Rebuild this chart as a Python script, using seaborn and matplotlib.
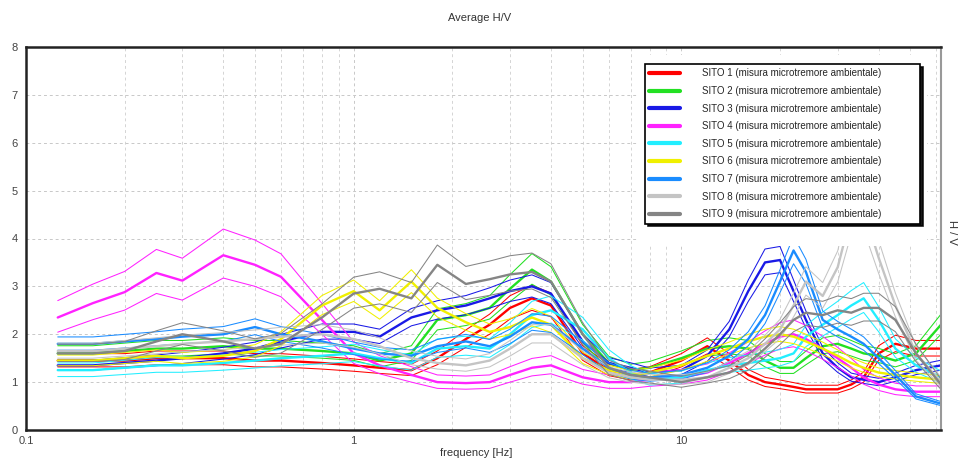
import numpy as np
import pandas as pd
import matplotlib
matplotlib.use("Agg")
import matplotlib.pyplot as plt
import seaborn as sns
from matplotlib.lines import Line2D
from matplotlib.patches import Rectangle

# frequenze (Hz) e curve H/V medie
freqs = [0.125, 0.16, 0.2, 0.25, 0.3, 0.4, 0.5, 0.6, 0.8, 1.0, 1.2, 1.5, 1.8, 2.2,
         2.6, 3.0, 3.5, 4.0, 5.0, 6.0, 7.0, 8.0, 10, 12, 14, 16, 18, 20, 22, 24,
         27, 30, 33, 36, 40, 45, 52, 62]

sito1 = [1.45, 1.45, 1.45, 1.5, 1.5, 1.5, 1.45, 1.45, 1.4, 1.35, 1.3, 1.25, 1.5, 1.9,
         2.2, 2.55, 2.75, 2.6, 1.6, 1.25, 1.15, 1.2, 1.45, 1.75, 1.45, 1.15, 1.0, 0.95,
         0.9, 0.85, 0.85, 0.85, 0.95, 1.1, 1.6, 1.8, 1.7, 1.7]
sito2 = [1.6, 1.6, 1.65, 1.7, 1.7, 1.75, 1.7, 1.7, 1.65, 1.6, 1.45, 1.6, 2.3, 2.4,
         2.55, 2.95, 3.35, 3.1, 2.0, 1.4, 1.25, 1.3, 1.5, 1.7, 1.75, 1.7, 1.45, 1.3,
         1.3, 1.5, 1.75, 1.8, 1.7, 1.6, 1.55, 1.45, 1.6, 2.2]
sito3 = [1.35, 1.35, 1.4, 1.45, 1.5, 1.6, 1.7, 1.85, 2.05, 2.05, 1.95, 2.35, 2.5, 2.6,
         2.75, 2.9, 3.0, 2.85, 1.85, 1.4, 1.3, 1.2, 1.25, 1.55, 2.1, 2.9, 3.5, 3.55,
         2.9, 2.3, 1.6, 1.3, 1.1, 1.05, 1.0, 1.1, 1.25, 1.35]
sito4 = [2.35, 2.65, 2.88, 3.28, 3.12, 3.65, 3.45, 3.2, 2.3, 1.6, 1.35, 1.15, 1.0, 0.98,
         1.0, 1.15, 1.3, 1.35, 1.1, 1.0, 1.0, 1.05, 1.1, 1.2, 1.4, 1.6, 1.8, 1.95,
         2.0, 1.9, 1.7, 1.5, 1.3, 1.1, 0.95, 0.85, 0.8, 0.8]
sito5 = [1.25, 1.25, 1.3, 1.35, 1.35, 1.4, 1.45, 1.5, 1.55, 1.6, 1.5, 1.4, 1.7, 1.75,
         1.7, 2.0, 2.4, 2.5, 2.1, 1.5, 1.2, 1.05, 1.1, 1.25, 1.35, 1.4, 1.45, 1.5,
         1.6, 1.95, 2.2, 2.4, 2.6, 2.75, 2.3, 1.7, 1.35, 1.1]
sito6 = [1.45, 1.45, 1.5, 1.55, 1.5, 1.55, 1.65, 1.9, 2.6, 2.9, 2.5, 3.1, 2.55, 2.25,
         2.05, 2.15, 2.35, 2.2, 1.5, 1.25, 1.15, 1.2, 1.35, 1.55, 1.7, 1.85, 1.95, 2.0,
         1.95, 1.85, 1.7, 1.55, 1.4, 1.3, 1.2, 1.15, 1.1, 1.05]
sito7 = [1.8, 1.8, 1.85, 1.9, 1.95, 2.0, 2.15, 2.0, 1.85, 1.7, 1.6, 1.55, 1.75, 1.85,
         1.75, 1.95, 2.25, 2.2, 1.7, 1.3, 1.15, 1.1, 1.15, 1.3, 1.55, 1.9, 2.4, 3.1,
         3.75, 3.3, 2.3, 2.1, 1.95, 1.8, 1.5, 1.15, 0.7, 0.55]
sito8 = [1.65, 1.65, 1.7, 1.75, 1.8, 1.85, 1.9, 1.95, 2.0, 1.9, 1.75, 1.5, 1.4, 1.35,
         1.45, 1.7, 2.0, 2.0, 1.5, 1.2, 1.1, 1.05, 1.05, 1.1, 1.3, 1.5, 1.8, 2.1,
         2.6, 3.1, 2.8, 3.4, 4.5, 4.6, 3.6, 2.6, 1.6, 1.0]
sito9 = [1.6, 1.6, 1.65, 1.85, 2.0, 1.85, 1.7, 1.8, 2.35, 2.85, 2.95, 2.75, 3.45, 3.05,
         3.15, 3.25, 3.3, 3.1, 2.0, 1.3, 1.15, 1.1, 1.0, 1.1, 1.2, 1.4, 1.7, 2.0,
         2.3, 2.45, 2.4, 2.5, 2.45, 2.55, 2.55, 2.3, 1.6, 0.95]

# fattore della deviazione standard (curve sottili = media * / fattore)
spread = [1.1, 1.1, 1.08, 1.15, 1.12, 1.08, 1.08, 1.1, 1.12]

siti = ["SITO %d (misura microtremore ambientale)" % i for i in range(1, 10)]
colori = ["#ff0000", "#22e022", "#1a1ae6", "#ff22ff", "#22eeff",
          "#f0f000", "#1a8cff", "#c4c4c4", "#858585"]
medie = [sito1, sito2, sito3, sito4, sito5, sito6, sito7, sito8, sito9]

rows = []
for nome, m, s in zip(siti, medie, spread):
    m = np.array(m)
    for kind, vals in [("mean", m), ("up", m * s), ("low", m / s)]:
        for f, v in zip(freqs, vals):
            rows.append({"freq": f, "hv": v, "sito": nome, "kind": kind,
                         "unit": nome + kind})
df = pd.DataFrame(rows)
df["size"] = np.where(df["kind"] == "mean", "thick", "thin")

sns.set_style("white")
plt.rcParams["font.family"] = ["Liberation Sans", "DejaVu Sans"]

fig = plt.figure(figsize=(9.63, 4.63), dpi=100)
ax = fig.add_axes([26 / 963, 33 / 463, 915 / 963, 383 / 463])

sns.lineplot(data=df, x="freq", y="hv", hue="sito", units="unit", estimator=None,
             size="size", sizes={"thick": 1.7, "thin": 0.75},
             palette=dict(zip(siti, colori)), legend=False, ax=ax, zorder=2)

ax.set_xscale("log")
ax.set_xlim(0.1, 62)
ax.set_ylim(0, 8)
ax.set_xticks([0.1, 1, 10], ["0.1", "1", "10"])
ax.set_yticks(range(0, 9))
ax.set_xlabel("")
ax.set_ylabel("")
ax.grid(True, which="major", color="#c8c8c8", linestyle=(0, (3, 3)), linewidth=0.7)
ax.grid(True, which="minor", axis="x", color="#d4d4d4", linestyle=(0, (3, 3)), linewidth=0.7)
ax.tick_params(axis="both", which="both", direction="in", length=3, color="#999999",
               labelsize=8, labelcolor="#444444")
ax.tick_params(axis="x", pad=4)
ax.tick_params(axis="y", pad=6)
for side in ["left", "bottom", "top"]:
    ax.spines[side].set_color("#222222")
    ax.spines[side].set_linewidth(1.8)
ax.spines["right"].set_color("#999999")
ax.spines["right"].set_linewidth(1.5)

# area bianca della legenda (copre le curve)
ax.add_patch(Rectangle((638 / 963, (463 - 246) / 463), 289 / 963, 191 / 463,
                       transform=fig.transFigure, facecolor="white",
                       edgecolor="none", zorder=3, clip_on=False))

handles = [Line2D([0], [0], color=c, lw=3) for c in colori]
leg = ax.legend(handles, siti, loc="upper left",
                bbox_to_anchor=(0.671, 0.968, 0.3115, 0.0), mode="expand",
                fontsize=7, labelspacing=0.78, handlelength=3.2, handletextpad=2.2,
                borderpad=0.45, frameon=True, fancybox=False,
                shadow={"color": "black", "alpha": 0.9})
leg.get_frame().set_edgecolor("black")
leg.get_frame().set_linewidth(1.2)
leg.set_zorder(5)

fig.text(480 / 963, 1 - 18 / 463, "Average H/V", ha="center", va="center",
         fontsize=8, color="#333333")
fig.text(476 / 963, 1 - 453 / 463, "frequency [Hz]", ha="center", va="center",
         fontsize=8, color="#333333")
fig.text(952 / 963, 1 - 232 / 463, "H / V", ha="center", va="center",
         rotation=-90, fontsize=8, color="#333333")

fig.savefig("out.png", dpi=100)
